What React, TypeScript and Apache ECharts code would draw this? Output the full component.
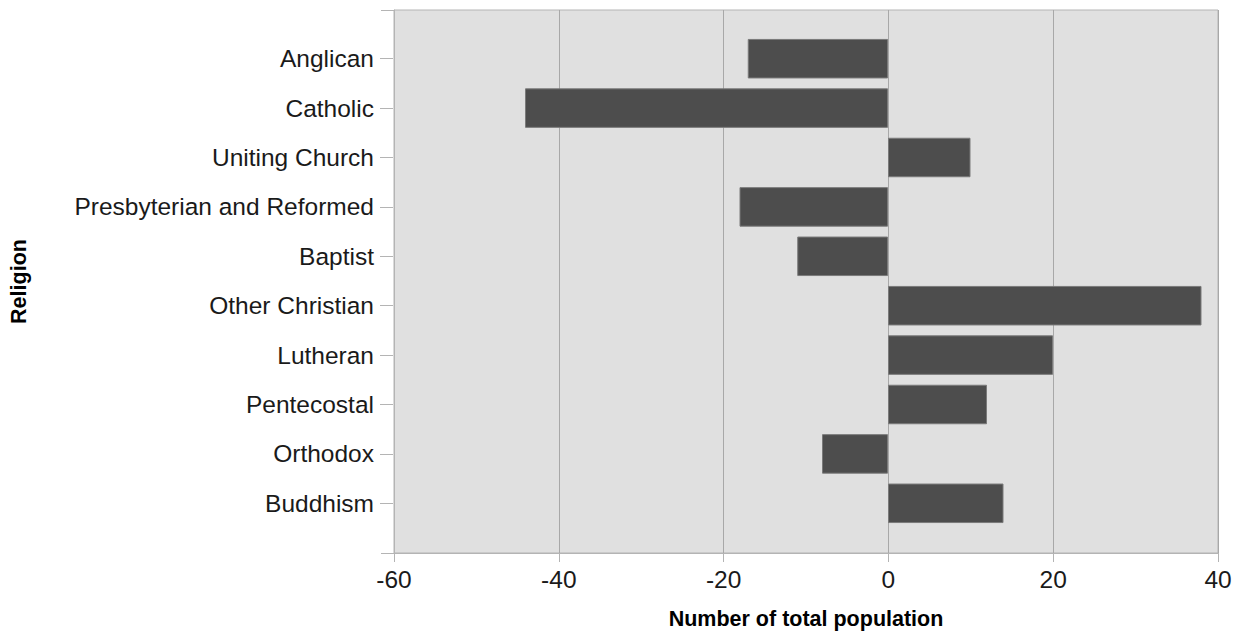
import React, { useEffect, useRef } from "react";
import * as echarts from "echarts";

const categories = [
  "Anglican",
  "Catholic",
  "Uniting Church",
  "Presbyterian and Reformed",
  "Baptist",
  "Other Christian",
  "Lutheran",
  "Pentecostal",
  "Orthodox",
  "Buddhism",
];
const values = [-17, -44, 10, -18, -11, 38, 20, 12, -8, 14];
const xTicks = { min: -60, max: 40, interval: 20 };

const FONT = "Arial, 'Liberation Sans', sans-serif";

export default function App() {
  const ref = useRef<HTMLDivElement>(null);
  useEffect(() => {
    document.body.style.margin = "0";
    const chart = echarts.init(ref.current!, undefined, { renderer: "svg" });
    chart.setOption({
      animation: false,
      grid: [
        {
          left: 393,
          right: 26,
          top: 10,
          bottom: 82,
          show: true,
          backgroundColor: "#e0e0e0",
          borderColor: "#b4b4b4",
          borderWidth: 1,
        },
        { left: 393, right: 26, top: 34, bottom: 107 },
      ],
      xAxis: [
        {
          gridIndex: 0,
          type: "value",
          min: xTicks.min,
          max: xTicks.max,
          interval: xTicks.interval,
          axisLine: { show: true, onZero: false, lineStyle: { color: "#b4b4b4", width: 1 } },
          axisTick: { show: true, length: 9, lineStyle: { color: "#b4b4b4" } },
          splitLine: { show: true, lineStyle: { color: "#a8a8a8", width: 1 } },
          axisLabel: { fontSize: 24.5, color: "#1a1a1a", fontFamily: FONT, margin: 14 },
          name: "Number of total population",
          nameLocation: "middle",
          nameGap: 55,
          nameTextStyle: { fontSize: 21.5, fontWeight: "bold", color: "#000", fontFamily: FONT },
        },
        {
          gridIndex: 1,
          type: "value",
          min: xTicks.min,
          max: xTicks.max,
          interval: xTicks.interval,
          show: false,
        },
      ],
      yAxis: [
        {
          gridIndex: 0,
          type: "value",
          min: 0,
          max: 1,
          interval: 1,
          axisLine: { show: true, onZero: false, lineStyle: { color: "#b4b4b4", width: 1 } },
          axisTick: { show: true, length: 13, lineStyle: { color: "#b4b4b4" } },
          axisLabel: { show: false },
          splitLine: { show: false },
          name: "Religion",
          nameLocation: "middle",
          nameGap: 364,
          nameTextStyle: { fontSize: 21.5, fontWeight: "bold", color: "#000", fontFamily: FONT },
        },
        {
          gridIndex: 1,
          type: "category",
          data: categories,
          inverse: true,
          axisLine: { show: false, onZero: false },
          axisTick: { show: true, length: 13, alignWithLabel: true, lineStyle: { color: "#b4b4b4" } },
          axisLabel: { fontSize: 24.5, color: "#1a1a1a", fontFamily: FONT, margin: 19 },
          splitLine: { show: false },
        },
      ],
      series: [
        {
          type: "bar",
          xAxisIndex: 1,
          yAxisIndex: 1,
          data: values,
          barCategoryGap: "20%",
          itemStyle: { color: "#4d4d4d", borderColor: "#7a7a7a", borderWidth: 1 },
        },
      ],
    });
    return () => chart.dispose();
  }, []);
  return <div ref={ref} style={{ width: 1244, height: 635 }} />;
}
